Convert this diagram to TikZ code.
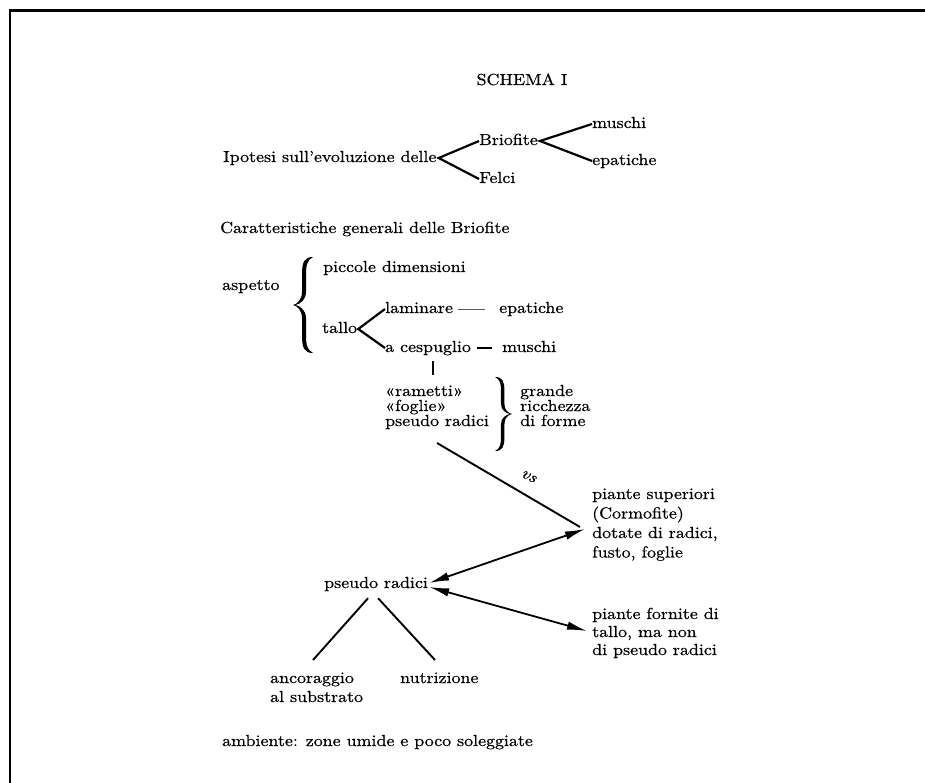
\documentclass[tikz,border=0pt]{standalone}
\usepackage{fontspec}
\setmainfont{lmroman10-regular.otf}[FakeStretch=1.12, FakeBold=0.6, ItalicFont=lmroman10-italic.otf, BoldFont=lmroman10-bold.otf]
\usetikzlibrary{arrows.meta,calc}
\tikzset{
  txt/.style={inner sep=0pt, anchor=base west, text height=11pt, text depth=3pt, font=\fontsize{16}{19}\selectfont},
  fork/.style={line width=2.2pt},
  conn/.style={line width=1.9pt},
  dblarrow/.style={line width=1.8pt, {Latex[length=20pt,width=8.5pt]}-{Latex[length=20pt,width=8.5pt]}},
  frame/.style={line width=2.3pt},
  calbrace/.pic={
    \fill (20,-50) .. controls (11,-50) and (9,-44) .. (9,-32)
      -- (9,-14) .. controls (9,-5) and (4,-1) .. (0,0)
      .. controls (4,1) and (9,5) .. (9,14)
      -- (9,32) .. controls (9,44) and (11,50) .. (20,50)
      .. controls (14.5,47) and (13,42) .. (13,32)
      -- (13,14) .. controls (13,5) and (7,1) .. (2.5,0)
      .. controls (7,-1) and (13,-5) .. (13,-14)
      -- (13,-32) .. controls (13,-42) and (14.5,-47) .. (20,-50) -- cycle;
  }
}
\begin{document}
\begin{tikzpicture}[x=1pt,y=-1pt]
\useasboundingbox (0,0) rectangle (925,783);
\draw[frame] (925,10.5) -- (10.3,10.5) -- (10.3,783);

% title
\node[txt, anchor=base] (schema) at (522,85) {SCHEMA I};

% first tree
\node[txt] (ipo) at (223,162) {Ipotesi sull'evoluzione delle};
\node[txt] (brio) at (479,145) {Briofite};
\node[txt] (felci) at (479,183) {Felci};
\node[txt] (musc1) at (592,128) {muschi};
\node[txt] (epat1) at (592,165) {epatiche};
\draw[fork] (brio.west) -- ([xshift=2pt]ipo.east) -- (felci.west);
\draw[fork] (musc1.west) -- ([xshift=2pt]brio.east) -- (epat1.west);

% characteristics
\node[txt] (cara) at (220,233) {Caratteristiche generali delle Briofite};
\node[txt] (aspetto) at (222,290) {aspetto};
\node[txt] (piccole) at (323,272) {piccole dimensioni};
\pic[yscale=0.96] (bleft) at (293,305) {calbrace};

\node[txt] (tallo) at (322,333) {tallo};
\node[txt] (lam) at (385,313) {laminare};
\node[txt] (epat2) at (499,313) {epatiche};
\node[txt] (cesp) at (385,352) {a cespuglio};
\node[txt] (musc2) at (502,352) {muschi};
\draw[fork] (lam.west) -- ([xshift=1pt]tallo.east) -- (cesp.west);
\draw[line width=1pt, black!65] ([xshift=5pt]lam.east) -- ([xshift=-14pt]epat2.west);
\draw[line width=1.2pt] ([xshift=6pt]cesp.east) -- ([xshift=-10pt]musc2.west);

% tick
\coordinate (tk1) at (433,361);
\coordinate (tk2) at (433,375);
\draw[line width=1.6pt] (tk1) -- (tk2);

% rametti block
\node[txt] (ram) at (385,396) {«rametti»};
\node[txt] (fog) at (385,411) {«foglie»};
\node[txt] (prad1) at (385,426) {pseudo radici};
\pic[xscale=-0.85, yscale=0.74] (bright) at (512,414) {calbrace};
\node[txt] (grande) at (520,396) {grande};
\node[txt] (ricch) at (520,411) {ricchezza};
\node[txt] (diforme) at (520,426) {di forme};

% piante superiori
\node[txt] (sup) at (592,499) {piante superiori};
\node[txt] (corm) at (592,518.5) {(Cormofite)};
\node[txt] (dot) at (592,538) {dotate di radici,};
\node[txt] (fusto) at (592,557.5) {fusto, foglie};

\coordinate (ln1) at (437,443);
\coordinate (ln2) at (580,527);
\draw[conn] (ln1) -- (ln2);
\node[txt, anchor=center, rotate=-28, font=\fontsize{16}{19}\selectfont\itshape] (vs) at (529,476) {vs};

% pseudo radici bottom
\node[txt] (prad2) at (324,588) {pseudo radici};
\coordinate (a1) at (585,529);
\coordinate (a2) at (587,631);
\draw[dblarrow] ([xshift=1pt,yshift=1pt]prad2.east) -- (a1);
\draw[dblarrow] ([xshift=1pt,yshift=-3pt]prad2.east) -- (a2);

\node[txt] (forn) at (592,619) {piante fornite di};
\node[txt] (tmn) at (592,637) {tallo, ma non};
\node[txt] (dipr) at (592,655) {di pseudo radici};

\node[txt] (anc) at (270,683) {ancoraggio};
\node[txt] (alsub) at (270,702) {al substrato};
\node[txt] (nutr) at (400,683) {nutrizione};
\coordinate (b1) at (313,660);
\coordinate (b2) at (435,660);
\draw[conn] ($(prad2.south)+(-8,7)$) -- (b1);
\draw[conn] ($(prad2.south)+(2,7)$) -- (b2);

\node[txt] (amb) at (222,746) {ambiente: zone umide e poco soleggiate};
\end{tikzpicture}
\end{document}
